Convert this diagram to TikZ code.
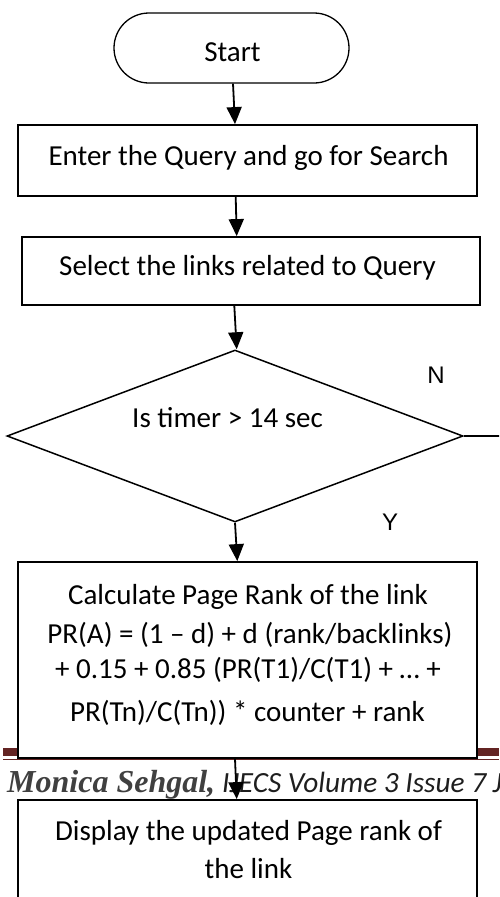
\documentclass[tikz,border=0pt]{standalone}
\usepackage{fontspec}
\setmainfont{Carlito}
\newfontfamily\ynfont{Liberation Sans}
\newfontfamily\authorfont{Liberation Serif}
\usetikzlibrary{shapes.geometric,arrows.meta}
\definecolor{footred}{HTML}{632423}
\definecolor{authorgray}{HTML}{404040}
\definecolor{footink}{HTML}{1E1E1E}
\begin{document}
\begin{tikzpicture}[x=1pt,y=-1pt,
  stepbox/.style={draw, line width=1.8pt, fill=white, minimum width=459pt, inner sep=0pt},
  flowtext/.style={font=\fontsize{29}{35}\selectfont, anchor=base, inner sep=0pt},
  ynlabel/.style={font=\ynfont\fontsize{24}{28}\selectfont, anchor=base, inner sep=0pt},
  flowarrow/.style={line width=1.8pt, -{Triangle[width=15pt,length=17pt]}}]
\clip (0,0) rectangle (499,897);

% journal footer band behind the lower boxes
\fill[footred] (3,748) rectangle (499,755.5);
\draw[footred, line width=1.3pt] (3,759.3) -- (499,759.3);
\node[anchor=base west, inner sep=0pt] (author) at (7,792)
  {\authorfont\fontsize{32}{36}\selectfont\bfseries\itshape\color{authorgray}Monica Sehgal,};
\node[anchor=base west, inner sep=0pt] (journal) at (222,792)
  {\fontsize{29.3}{36}\selectfont\itshape\color{footink}IJECS Volume 3 Issue 7 J};

% shapes
\node[stepbox, minimum width=235pt, minimum height=70pt, rounded corners=35pt, line width=1.3pt] (start) at (231.5,48) {};
\node[stepbox, minimum height=71pt] (enter) at (247.5,160.5) {};
\node[stepbox, minimum width=458pt, minimum height=68pt] (select) at (251,271) {};
\node[draw, diamond, line width=1.5pt, fill=white, minimum width=456pt, minimum height=172pt, aspect=2.65, inner sep=0pt] (timer) at (235,436) {};
\node[stepbox, minimum height=196pt] (calc) at (247.5,660) {};
\node[stepbox, minimum height=140pt] (display) at (247.5,870) {};

% texts
\node[flowtext] (startT) at (232.5,61) {Start};
\node[flowtext] (enterT) at (248.5,165) {Enter the Query and go for Search};
\node[flowtext] (selectT) at (247.5,275) {Select the links related to Query};
\node[flowtext] (timerT) at (227.5,427) {Is timer > 14 sec};
\node[flowtext] (calcA) at (248,604) {Calculate Page Rank of the link};
\node[flowtext] (calcB) at (250,643) {PR(A) = (1 – d) + d (rank/backlinks)};
\node[flowtext] (calcC) at (248,678) {+ 0.15 + 0.85 (PR(T1)/C(T1) + … +};
\node[flowtext] (calcD) at (247.5,721) {PR(Tn)/C(Tn)) * counter + rank};
\node[flowtext] (displayA) at (248.5,840) {Display the updated Page rank of};
\node[flowtext] (displayB) at (248.5,878) {the link};

\node[ynlabel] (nlab) at (436,383) {N};
\node[ynlabel] (ylab) at (390,530) {Y};

% connectors
\coordinate (noexit) at (510,436);
\draw[line width=1.5pt] (timer.east) -- (noexit);
\draw[flowarrow] ([xshift=1.5pt]start.south) -- ([xshift=-12.5pt]enter.north);
\draw[flowarrow] ([xshift=-11.8pt]enter.south) -- ([xshift=-14.3pt]select.north);
\draw[flowarrow] ([xshift=-16.7pt]select.south) -- ([xshift=1.7pt]timer.north);
\draw[flowarrow] (timer.south) -- ([xshift=-10.2pt]calc.north);
\draw[flowarrow] ([xshift=-12.5pt]calc.south) -- ([xshift=-10.8pt]display.north);
\end{tikzpicture}
\end{document}
